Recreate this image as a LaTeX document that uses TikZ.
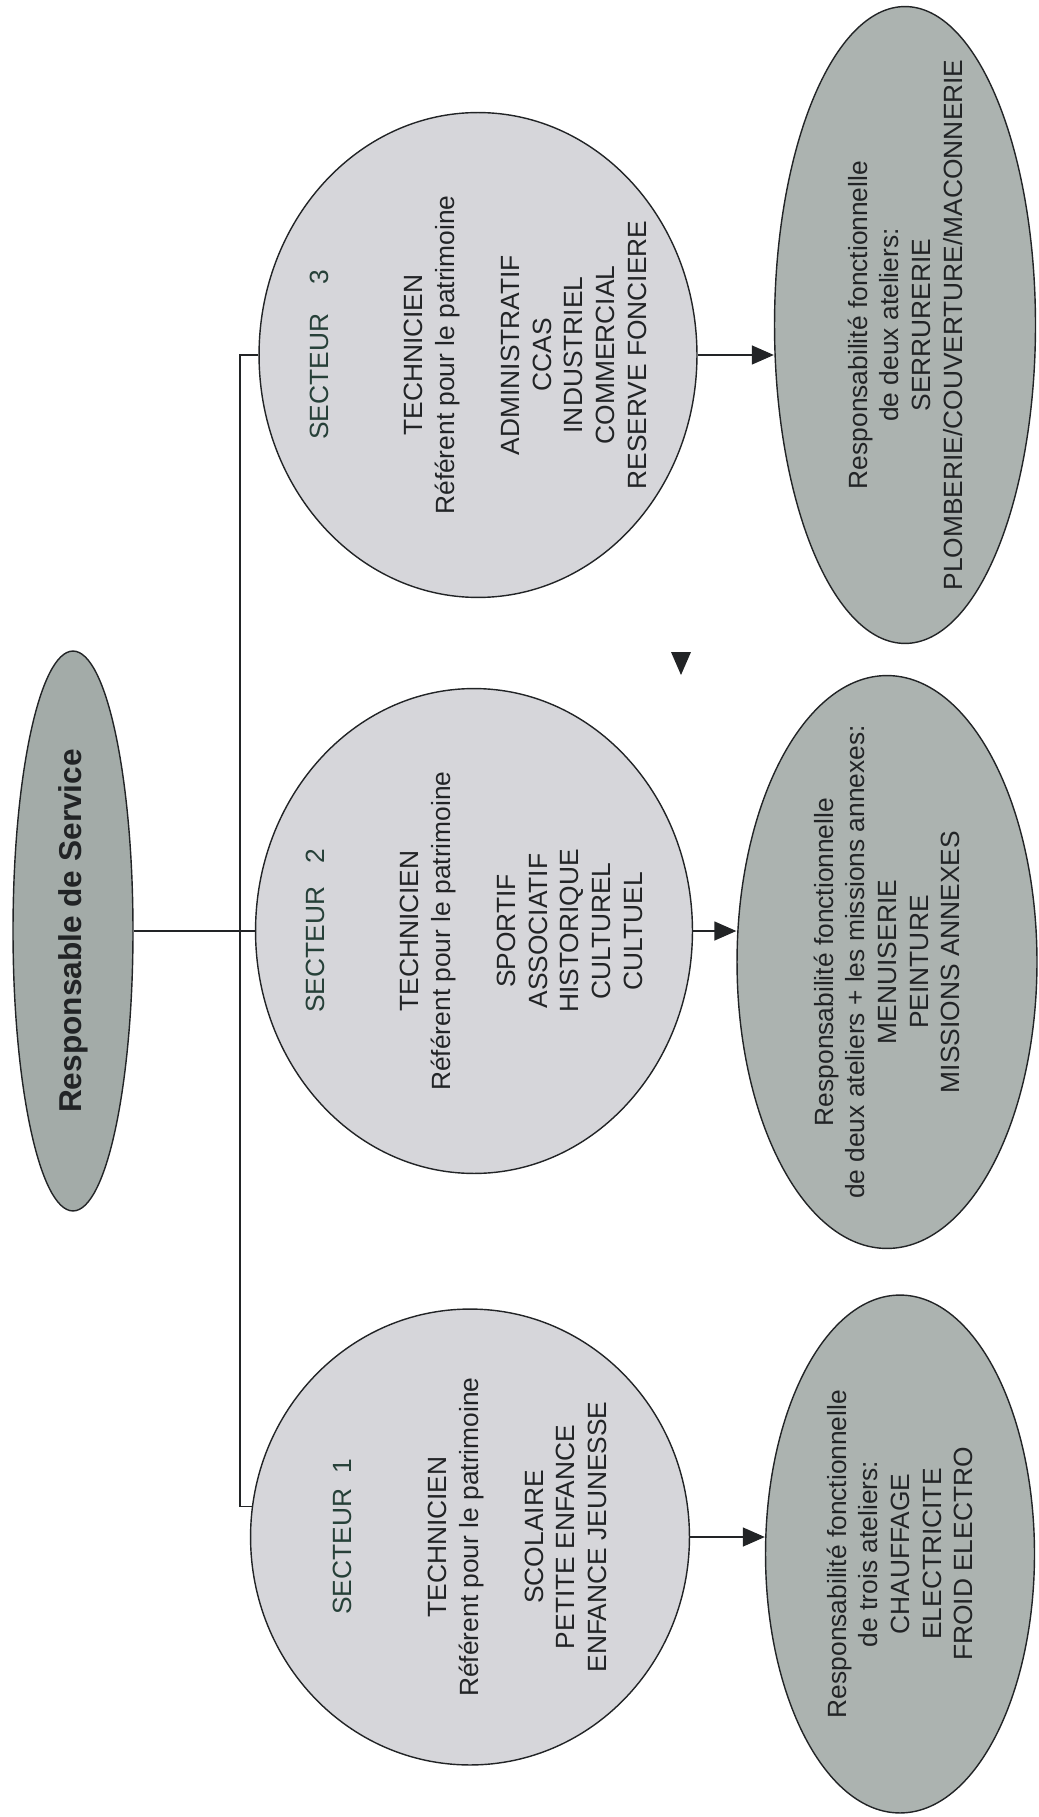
\documentclass[tikz,border=0pt]{standalone}
\usepackage{fontspec}
\setmainfont{Liberation Sans}
\usetikzlibrary{shapes.geometric,arrows.meta}

\definecolor{chefgray}{RGB}{163,171,168}
\definecolor{secgray}{RGB}{214,214,218}
\definecolor{atgray}{RGB}{172,179,176}
\definecolor{inkdark}{RGB}{34,36,38}
\definecolor{titlegreen}{RGB}{38,64,56}

\tikzset{
  bulle/.style={ellipse, draw=inkdark, line width=0.8pt, rotate=90, align=center,
    inner sep=-2cm, text=inkdark, font=\fontsize{15}{18}\selectfont},
  chef/.style={bulle, fill=chefgray, font=\fontsize{18}{22}\bfseries\selectfont},
  secteur/.style={bulle, fill=secgray},
  atelier/.style={bulle, fill=atgray},
  link/.style={draw=inkdark, line width=0.8pt},
  arrow/.style={link, -{Triangle[length=0.44cm,width=0.38cm]}}
}

\begin{document}
\begin{tikzpicture}[x=0.02cm, y=-0.02cm]
  \useasboundingbox (0,0) rectangle (1038,1817);

  \node[chef, minimum width=11.2cm, minimum height=2.4cm] (resp) at (73,931) {Responsable de Service};

  \node[secteur, minimum width=9.7cm, minimum height=8.76cm] (sec3) at (478,355)
    {\textcolor{titlegreen}{SECTEUR\hspace{0.58cm}3}\\[36pt]TECHNICIEN\\Référent pour le patrimoine\\[19pt]ADMINISTRATIF\\CCAS\\INDUSTRIEL\\COMMERCIAL\\RESERVE FONCIERE};
  \node[secteur, minimum width=9.7cm, minimum height=8.74cm] (sec2) at (474,931)
    {\textcolor{titlegreen}{SECTEUR\hspace{0.46cm}2}\\[36pt]TECHNICIEN\\Référent pour le patrimoine\\[19pt]SPORTIF\\ASSOCIATIF\\HISTORIQUE\\CULTUREL\\CULTUEL};
  \node[secteur, minimum width=9.12cm, minimum height=8.78cm] (sec1) at (470,1537)
    {\textcolor{titlegreen}{SECTEUR\hspace{0.3cm}1}\\[36pt]TECHNICIEN\\Référent pour le patrimoine\\[19pt]SCOLAIRE\\PETITE ENFANCE\\ENFANCE JEUNESSE};

  \node[atelier, minimum width=12.74cm, minimum height=5.22cm] (at3) at (905,325)
    {Responsabilité fonctionnelle\\de deux ateliers:\\SERRURERIE\\PLOMBERIE/COUVERTURE/MACONNERIE};
  \node[atelier, minimum width=11.46cm, minimum height=6cm] (at2) at (887,962)
    {Responsabilité fonctionnelle\\de deux ateliers + les missions annexes:\\MENUISERIE\\PEINTURE\\MISSIONS ANNEXES};
  \node[atelier, minimum width=10.36cm, minimum height=5.38cm] (at1) at (900,1554)
    {Responsabilité fonctionnelle\\de trois ateliers:\\CHAUFFAGE\\ELECTRICITE\\FROID ELECTRO};

  \coordinate (bus) at (240,931);
  \draw[link] (resp.south) -- (sec2.north);
  \draw[link] (sec3.north) -| (bus) |- (sec1.82);

  \draw[arrow] (sec3.south) -- (sec3.south -| at3.north);
  \draw[arrow] (sec2.south) -- (sec2.south -| at2.north);
  \draw[arrow] (sec1.south) -- (sec1.south -| at1.north);

  \fill[inkdark] (671,652) -- (691,652) -- (681,675) -- cycle;
\end{tikzpicture}
\end{document}
